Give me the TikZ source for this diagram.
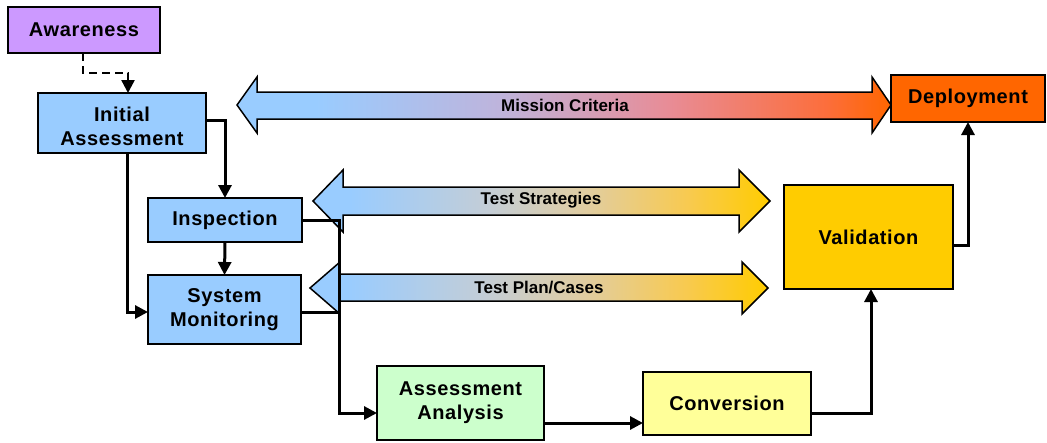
\documentclass[tikz,border=0pt]{standalone}
\usepackage{fontspec}
\setmainfont{Liberation Sans}
\usetikzlibrary{arrows.meta}
\definecolor{cblue}{HTML}{99CCFF}
\definecolor{cpurple}{HTML}{CC99FF}
\definecolor{corange}{HTML}{FF6600}
\definecolor{cgold}{HTML}{FFCC00}
\definecolor{cgreen}{HTML}{CCFFCC}
\definecolor{cyellow}{HTML}{FFFF99}
\pgfdeclarehorizontalshading{missionshade}{100bp}{color(0bp)=(cblue); color(25bp)=(cblue); color(31bp)=(cblue); color(45bp)=({rgb,255:red,190;green,180;blue,220}); color(58bp)=({rgb,255:red,232;green,140;blue,150}); color(70bp)=({rgb,255:red,252;green,110;blue,60}); color(75bp)=(corange); color(100bp)=(corange)}
\pgfdeclarehorizontalshading{testshade}{100bp}{color(0bp)=(cblue); color(25bp)=(cblue); color(29bp)=(cblue); color(44bp)=({rgb,255:red,195;green,205;blue,215}); color(55bp)=({rgb,255:red,225;green,205;blue,160}); color(66bp)=({rgb,255:red,248;green,202;blue,80}); color(75bp)=(cgold); color(100bp)=(cgold)}
\newfontfamily\boxfont[LetterSpace=3]{Liberation Sans}
\tikzset{
  box/.style={draw=black, line width=1.8pt, anchor=north west, inner sep=0pt, outer sep=0pt,
    align=center, font=\boxfont\fontsize{20}{24}\selectfont\bfseries},
  conn/.style={line width=3pt, -{Triangle[length=13pt,width=13pt]}},
  plainline/.style={line width=3pt},
  band/.style={draw=black, line width=1.5pt},
  bandlabel/.style={font=\fontsize{17}{19}\selectfont\bfseries, inner sep=0pt}
}
\begin{document}
\begin{tikzpicture}[x=1pt,y=-1pt]
\useasboundingbox (0,0) rectangle (1047,442);
% double arrows
\path[shading=missionshade] (237,105) -- (257,77) -- (257,92) -- (872,92) -- (872,77) -- (891,105) -- (872,133) -- (872,119) -- (257,119) -- (257,133) -- cycle;
\draw[band] (237,105) -- (257,77) -- (257,92) -- (872,92) -- (872,77) -- (891,105) -- (872,133) -- (872,119) -- (257,119) -- (257,133) -- cycle;
\path[shading=testshade] (313,201) -- (343,170) -- (343,187) -- (739,187) -- (739,170) -- (770,201) -- (739,232) -- (739,215) -- (343,215) -- (343,232) -- cycle;
\draw[band] (313,201) -- (343,170) -- (343,187) -- (739,187) -- (739,170) -- (770,201) -- (739,232) -- (739,215) -- (343,215) -- (343,232) -- cycle;
\path[shading=testshade] (310,288) -- (340,262) -- (340,274) -- (742,274) -- (742,262) -- (768,288) -- (742,314) -- (742,301) -- (340,301) -- (340,314) -- cycle;
\draw[band] (310,288) -- (340,262) -- (340,274) -- (742,274) -- (742,262) -- (768,288) -- (742,314) -- (742,301) -- (340,301) -- (340,314) -- cycle;
\node[bandlabel] (mc) at (565,105) {Mission Criteria};
\node[bandlabel] (ts) at (541,200) {Test Strategies};
\node[bandlabel] (tp) at (539,288) {Test Plan/Cases};
% boxes
\node[box, fill=cpurple, minimum width=152pt, minimum height=46pt] (aw) at (8,7) {Awareness};
\node[box, fill=cblue, minimum width=168pt, minimum height=60pt] (ia) at (38,93) {\rule{0pt}{22pt}Initial\\Assessment};
\node[box, fill=cblue, minimum width=154pt, minimum height=44pt] (insp) at (148,198) {Inspection};
\node[box, fill=cblue, minimum width=153pt, minimum height=69pt] (sm) at (148,275) {System\\Monitoring};
\node[box, fill=cgreen, minimum width=167pt, minimum height=74pt] (aa) at (377,366) {Assessment\\Analysis};
\node[box, fill=cyellow, minimum width=168pt, minimum height=63pt] (conv) at (643,372) {Conversion};
\node[box, fill=cgold, minimum width=169pt, minimum height=104pt] (val) at (784,185) {Validation};
\node[box, fill=corange, minimum width=154pt, minimum height=47pt] (dep) at (891,75) {Deployment};
% connectors
\draw[conn, dash pattern=on 8pt off 5pt, line width=2.4pt] ([xshift=-1pt]aw.south) -- ++(0,20) -| ([xshift=6pt]ia.north);
\draw[conn] ([yshift=3pt]ia.east) -| (insp.north);
\draw[conn] ([xshift=5pt]ia.south) |- ([yshift=-2.5pt]sm.west);
\draw[conn] (insp.south) -- (sm.north);
\coordinate (bus) at (339,413);
\draw[conn] (insp.east) -| (bus) -- ([yshift=-10pt]aa.west);
\draw[plainline] ([yshift=-2.5pt]sm.east) -- ([yshift=-2.5pt]sm.east -| bus);
\draw[conn] ([yshift=-20pt]aa.east) -- ([yshift=-20pt]aa.east -| conv.west);
\draw[conn] ([yshift=-10pt]conv.east) -| ([xshift=2.5pt]val.south);
\draw[conn] ([yshift=-8pt]val.east) -| (dep.south);
\end{tikzpicture}
\end{document}
